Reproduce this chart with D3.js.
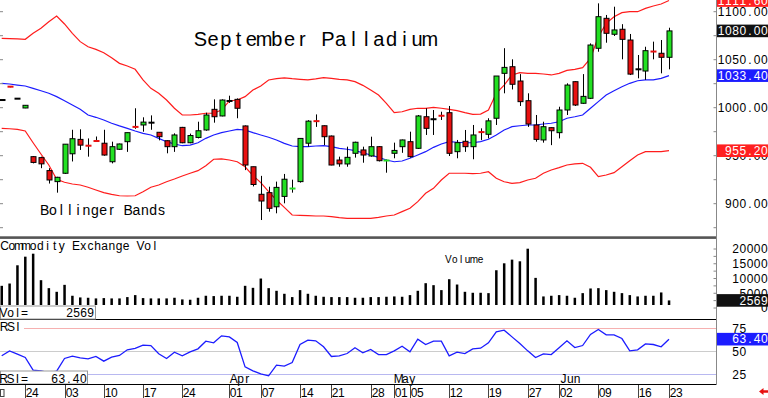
<!DOCTYPE html>
<html>
<head>
<meta charset="utf-8">
<script src="https://cdn.jsdelivr.net/npm/d3@7"></script>
<style>
  body { margin: 0; background: #fff; }
  svg text { font-family: "Liberation Sans", Arial, sans-serif; }
</style>
</head>
<body>
<div id="chart"></div>
<script>
// trading days on the chart
var dates = [
  "2025-02-19","2025-02-20","2025-02-21","2025-02-24","2025-02-25","2025-02-26","2025-02-27","2025-02-28",
  "2025-03-03","2025-03-04","2025-03-05","2025-03-06","2025-03-07","2025-03-10","2025-03-11","2025-03-12",
  "2025-03-13","2025-03-14","2025-03-17","2025-03-18","2025-03-19","2025-03-20","2025-03-21","2025-03-24",
  "2025-03-25","2025-03-26","2025-03-27","2025-03-28","2025-03-31",
  "2025-04-01","2025-04-02","2025-04-03","2025-04-04","2025-04-07","2025-04-08","2025-04-09","2025-04-10",
  "2025-04-11","2025-04-14","2025-04-15","2025-04-16","2025-04-17","2025-04-21","2025-04-22","2025-04-23",
  "2025-04-24","2025-04-25","2025-04-28","2025-04-29","2025-04-30",
  "2025-05-01","2025-05-02","2025-05-05","2025-05-06","2025-05-07","2025-05-08","2025-05-09","2025-05-12",
  "2025-05-13","2025-05-14","2025-05-15","2025-05-16","2025-05-19","2025-05-20","2025-05-21","2025-05-22",
  "2025-05-23","2025-05-27","2025-05-28","2025-05-29","2025-05-30",
  "2025-06-02","2025-06-03","2025-06-04","2025-06-05","2025-06-06","2025-06-09","2025-06-10","2025-06-11",
  "2025-06-12","2025-06-13","2025-06-16","2025-06-17","2025-06-18","2025-06-20","2025-06-23"
];

var open = [1008, 1021.9, 1009.4, 999.7, 949, 948, 934.5, 923, 931.7, 952,
  967, 960.4, 965.3, 963, 943.7, 956.7, 964.6, 980, 982, 984.4,
  974.4, 965.6, 959.4, 979.5, 963.5, 969, 976.8, 998.3, 991.4, 1007,
  1008.7, 981, 938.5, 909.8, 911.5, 896.8, 907.6, 915.4, 923, 963,
  986, 981.2, 970.5, 945.5, 941.4, 952.5, 956, 949.7, 959.4, 944.6,
  952.5, 959.4, 964.6, 957.7, 990.6, 988, 991.6, 994.8, 954.2, 965,
  959.4, 974.6, 972.3, 989, 1035.8, 1042.7, 1027.8, 1007.3, 982, 966.4,
  979.2, 974, 997.6, 1027.1, 1004.6, 1009.8, 1061.9, 1093.1, 1076.5, 1081.7,
  1070.5, 1040, 1038.2, 1058.5, 1056.7, 1052.5];
var high = [1008, 1021.9, 1009.4, 1002.6, 949.5, 949, 937, 928, 962, 977,
  977.5, 968, 970, 977, 964.6, 962.6, 974, 999.4, 990, 992,
  974.5, 966, 973.3, 980, 973, 985.4, 994.8, 1008.7, 1008.7, 1012.5,
  1009.7, 981.5, 938.5, 929, 917.7, 923, 931, 925, 968, 987,
  993, 981.5, 971, 949, 959.4, 964.6, 959.4, 969.8, 960, 946,
  963.6, 966.8, 975, 992.4, 999.4, 997.6, 995.8, 1001.8, 966.4, 976.8,
  982, 978.5, 989, 1033, 1062, 1050.4, 1035, 1015, 992.4, 985.4,
  979.5, 1001, 1025.4, 1027.5, 1035, 1067, 1108.7, 1096.6, 1105.2, 1087,
  1076.8, 1054.9, 1063.5, 1068.8, 1070.5, 1083.3];
var low = [1008, 1021.3, 1009.4, 999.5, 942, 937, 921, 911.5, 931, 944,
  956, 949, 964.5, 950, 942, 956, 954, 978, 975, 977,
  966, 952.5, 954, 963, 963, 968, 976, 984.4, 991, 1005,
  989, 935, 918, 883, 891.7, 890, 900.4, 911.5, 922, 959.5,
  980, 961, 940, 938.5, 938.5, 948, 942.7, 949, 944, 932.3,
  947.3, 953, 948, 957, 971.6, 971.6, 987.2, 949.7, 947.3, 954,
  946.3, 966.4, 968, 982, 1015, 1019, 1001.8, 980, 964.6, 963.6,
  961, 968, 992.4, 1001.8, 1004, 1009, 1058.3, 1067.7, 1074.7, 1050.4,
  1034, 1030.6, 1029, 1050.4, 1035.8, 1040];
var close = [1008, 1021.3, 1009.4, 1002.5, 943, 941.5, 924.7, 927.5, 962, 967.7,
  961, 959.5, 965, 950.7, 959.4, 962.2, 974, 978.5, 985, 984.4,
  969.8, 959.4, 971.6, 963.5, 971, 976, 992.4, 990.6, 1008, 1007,
  999.4, 940.3, 920, 902.8, 895.2, 917, 925.5, 915.8, 968, 986,
  984.5, 969.8, 940.3, 941.5, 948.3, 964, 950.7, 959.4, 944.8, 945,
  955.5, 966.4, 949, 991.4, 978.5, 988, 991.2, 952.5, 963.6, 959.4,
  971.6, 974.2, 986.3, 1033, 1042, 1024.4, 1006.3, 983, 967, 980.2,
  976, 997.6, 1023.6, 1002.8, 1011.8, 1065.3, 1094.8, 1077.5, 1081, 1071.2,
  1035, 1040, 1059.4, 1058.1, 1052.5, 1080];

var bbUpper = [1072.3, 1072, 1071.6, 1071.2, 1077.5, 1082.7, 1089.6, 1095.5, 1087.2, 1077.5,
  1068.8, 1063.5, 1060.8, 1057.3, 1052.1, 1046.2, 1043.4, 1040, 1028.9, 1020.2,
  1015, 1008, 999.4, 992.4, 992.4, 993.1, 994.2, 994.2, 997.6, 1007,
  1008, 1011.5, 1018.4, 1022.6, 1028.9, 1030.2, 1031, 1030.2, 1029.6, 1028.9,
  1030, 1031.3, 1030.6, 1029.6, 1028.9, 1027.1, 1023.3, 1018.4, 1013.2, 1004.6,
  994.8, 995.8, 998.3, 999.4, 999.4, 1000.4, 999.4, 998.3, 996.9, 994.8,
  993.1, 993.4, 997.6, 1015, 1023.6, 1034.1, 1036.5, 1035.8, 1035.8, 1035.1,
  1034.1, 1035.8, 1038.9, 1040, 1041.7, 1051.5, 1074, 1087.9, 1094.8, 1099,
  1100, 1100, 1103.5, 1105.9, 1108, 1111.6];
var bbMid = [1025.4, 1024.7, 1023.6, 1022.6, 1020.2, 1017.7, 1015, 1011.5, 1007.3, 1002.8,
  998.3, 992.4, 990, 987.2, 983.8, 981, 978.5, 975.7, 973.3, 971.6,
  968.1, 964.6, 962.2, 960.4, 961.1, 963.5, 968.1, 971.6, 974, 975.7,
  977.5, 976.8, 974, 971.6, 969.2, 966.4, 962.9, 960.1, 959.4, 959.4,
  960.1, 960.4, 959.4, 957.7, 956.7, 955.2, 953.1, 950.7, 948.3, 945.5,
  943.7, 944.5, 947.3, 950.7, 954.2, 958.7, 962.2, 964.6, 964, 963.5,
  963.5, 964.6, 967.1, 971.6, 976.8, 980.2, 981.2, 982, 982, 983,
  983.8, 985.4, 989, 990.6, 992.4, 999.4, 1006.3, 1013.2, 1017.7, 1021.9,
  1025.4, 1028.1, 1028.9, 1028.9, 1030.6, 1033.4];
var bbLower = [978.5, 978.1, 977.5, 975.7, 963.5, 951.8, 940.3, 925.4, 922.3, 920.5,
  919.5, 917.1, 914.3, 911.5, 909.8, 908.3, 908, 908.3, 912.5, 917.1,
  919.5, 922.9, 925.7, 928.9, 931.7, 934.4, 939.6, 946.3, 946.6, 945.5,
  943.7, 938.5, 929.3, 922, 912.5, 903.9, 896.2, 888.2, 887.9, 887.5,
  887.2, 887.2, 886.5, 885.4, 884.8, 884.8, 884.8, 884.8, 885.8, 887.2,
  888.2, 891.7, 895.2, 902.1, 910.8, 916, 924.7, 931.7, 931.7, 931.7,
  931.3, 931.7, 933.3, 926.5, 922.9, 921.2, 921.9, 924.7, 926.5, 931.7,
  935.1, 937.6, 940.3, 941.4, 942.1, 937.9, 928.2, 929.9, 932.3, 938.5,
  944.8, 950.7, 954.2, 954.2, 954.2, 955.2];

var volume = [7520, 8300, 14480, 17400, 18410, 9430, 6730, 5490, 7850, 4150,
  3580, 3470, 3250, 3360, 3250, 3250, 3700, 4370, 3360, 3250,
  3250, 3250, 3470, 2910, 2800, 3470, 4150, 4040, 4150, 4150,
  3810, 7520, 6840, 9990, 6730, 5830, 4820, 3700, 6060, 4820,
  4150, 3810, 3700, 3700, 3700, 3470, 3470, 3700, 3700, 3810,
  3920, 3810, 4370, 5830, 8410, 7740, 6060, 9760, 7960, 5490,
  5160, 5160, 5040, 12800, 15150, 16390, 15830, 20100, 10210, 3920,
  4150, 4370, 4150, 3470, 5040, 6620, 6730, 6060, 5490, 5040,
  4370, 3920, 4150, 4150, 5270, 2569];

var rsi = [45.3, 50.7, 47.1, 43.5, 29.7, 29.0, 27.0, 28.6, 42.4, 44.9,
  43.1, 42.0, 44.6, 39.5, 43.8, 45.7, 51.8, 53.3, 56.9, 56.5,
  47.5, 42.4, 49.3, 45.3, 49.6, 52.9, 61.2, 59.4, 67.0, 65.9,
  59.8, 33.3, 29.0, 25.7, 23.6, 35.1, 34.1, 38.0, 57.6, 62.3,
  61.6, 55.1, 44.6, 45.3, 47.8, 54.0, 48.6, 52.2, 46.7, 46.7,
  50.7, 55.8, 49.6, 63.4, 57.6, 61.2, 61.2, 45.3, 49.3, 47.8,
  52.9, 53.6, 59.4, 71.4, 73.2, 65.9, 58.7, 50.7, 43.5, 47.5,
  46.7, 54.0, 61.6, 54.3, 56.5, 68.5, 73.9, 68.1, 68.1, 64.1,
  50.7, 51.8, 58.3, 57.6, 55.1, 63.4];

var priceLabels = [900, 950, 1000, 1050, 1100];
var volLabels = [0, 5000, 10000, 15000, 20000];
var rsiLabels = [25, 50, 75];
var dayTicks = ["2025-02-24","2025-03-03","2025-03-10","2025-03-17","2025-03-24","2025-04-01","2025-04-07",
  "2025-04-14","2025-04-21","2025-04-28","2025-05-01","2025-05-05","2025-05-12","2025-05-19","2025-05-27",
  "2025-06-02","2025-06-09","2025-06-16","2025-06-23"];
var monthTicks = [["2025-04-01", "Apr"], ["2025-05-01", "May"], ["2025-06-02", "Jun"]];

var RED = "#e81010", GREEN = "#22e022", BLUE = "#1c1cff";
var W = 768, H = 398, axisX = 716.5;

var svg = d3.select("#chart").append("svg")
    .attr("width", W).attr("height", H);

var n = dates.length;
var x = d3.scaleLinear().domain([0, n - 1]).range([1.7, 669]);
var yP = d3.scaleLinear().domain([900, 1100]).range([203.7, 11.7]);
var yV = d3.scaleLinear().domain([0, 20000]).range([308, 249]);
var yR = d3.scaleLinear().domain([25, 75]).range([374.5, 328.5]);

// text drawn on a fixed character grid (each glyph centred in its cell)
function gridText(g, str, x0, y, adv, size, color) {
  var xs = str.split("").map(function(c, k) { return (x0 + adv * (k + 0.5)).toFixed(2); });
  return g.append("text")
    .attr("x", xs.join(" "))
    .attr("y", y)
    .attr("text-anchor", "middle")
    .attr("font-size", size)
    .attr("fill", color || "#000")
    .text(str);
}
function gridTextRight(g, str, xr, y, adv, size, color) {
  return gridText(g, str, xr - adv * str.length, y, adv, size, color);
}

var defs = svg.append("defs");
defs.append("clipPath").attr("id", "clipMain")
  .append("rect").attr("x", 0).attr("y", 0).attr("width", 716).attr("height", 236);
defs.append("clipPath").attr("id", "clipVol")
  .append("rect").attr("x", 0).attr("y", 239).attr("width", 716).attr("height", 66);

// ---------- main price panel ----------
var main = svg.append("g").attr("clip-path", "url(#clipMain)");

gridText(main, "September Palladium", 194, 46, 12.75, 20);
gridText(main, "Bollinger Bands", 40.5, 214.5, 8.35, 14);

var line = function(arr) {
  return d3.line().x(function(d, i) { return x(i); }).y(function(d) { return yP(d); })(arr);
};
main.append("path").attr("d", line(bbUpper)).attr("fill", "none").attr("stroke", "#ff1c1c").attr("stroke-width", 1.2);
main.append("path").attr("d", line(bbLower)).attr("fill", "none").attr("stroke", "#ff1c1c").attr("stroke-width", 1.2);
main.append("path").attr("d", line(bbMid)).attr("fill", "none").attr("stroke", BLUE).attr("stroke-width", 1.2);

var bars = dates.map(function(d, i) {
  return { i: i, o: open[i], h: high[i], l: low[i], c: close[i], v: volume[i], r: rsi[i] };
});

var candle = main.append("g").selectAll("g").data(bars).enter().append("g");
candle.append("line")
  .attr("x1", function(d) { return Math.round(x(d.i)) + 0.5; })
  .attr("x2", function(d) { return Math.round(x(d.i)) + 0.5; })
  .attr("y1", function(d) { return yP(d.h); })
  .attr("y2", function(d) { return yP(d.l); })
  .attr("stroke", "#000").attr("stroke-width", 1);
candle.append("rect")
  .each(function(d) {
    var y0 = yP(Math.max(d.o, d.c)), y1 = yP(Math.min(d.o, d.c));
    var cx = Math.round(x(d.i)) + 0.5;
    var col = d.c > d.o ? GREEN : (d.c < d.o ? RED : "#000");
    var r = d3.select(this);
    if (y1 - y0 < 1.5) {
      r.attr("x", cx - 3).attr("width", 6).attr("y", y0 - 1).attr("height", 2).attr("fill", col);
    } else {
      r.attr("x", cx - 2.5).attr("width", 5).attr("y", y0).attr("height", y1 - y0)
        .attr("fill", col).attr("stroke", "#000").attr("stroke-width", 1);
    }
  });

// panel separator
svg.append("rect").attr("x", 0).attr("y", 236.3).attr("width", 716).attr("height", 2.6).attr("fill", "#555");

// ---------- volume panel ----------
var vol = svg.append("g");
gridText(vol, "Commodity Exchange Vol", 1, 249.5, 7.15, 12);
gridText(vol, "Volume", 445, 263, 6.45, 10);
vol.append("g").attr("clip-path", "url(#clipVol)")
  .selectAll("rect").data(bars).enter().append("rect")
  .attr("x", function(d) { return x(d.i) - 1.2; })
  .attr("width", 2.5)
  .attr("y", function(d) { return yV(d.v); })
  .attr("height", function(d) { return yV(0) - yV(d.v); })
  .attr("fill", "#000");

svg.append("line").attr("x1", 0).attr("x2", 716).attr("y1", 319.5).attr("y2", 319.5).attr("stroke", "#000");
var volBox = svg.append("g");
volBox.append("rect").attr("x", 0.5).attr("y", 306).attr("width", 95).attr("height", 13).attr("fill", "#fff").attr("stroke", "#999");
gridText(volBox, "Vol=", 0, 317, 7, 12);
gridTextRight(volBox, String(volume[n - 1]), 94, 317, 7, 12);

// ---------- RSI panel ----------
var rs = svg.append("g");
rs.append("line").attr("x1", 24).attr("x2", 716).attr("y1", yR(75)).attr("y2", yR(75)).attr("stroke", "#f6b0b0");
rs.append("line").attr("x1", 0).attr("x2", 716).attr("y1", yR(50)).attr("y2", yR(50)).attr("stroke", "#cccccc");
rs.append("line").attr("x1", 88).attr("x2", 716).attr("y1", yR(25)).attr("y2", yR(25)).attr("stroke", "#b8b8f0");
gridText(rs, "RSI", 0.5, 331, 7, 12);
rs.append("path")
  .attr("d", d3.line().x(function(d) { return x(d.i); }).y(function(d) { return yR(d.r); })(bars))
  .attr("fill", "none").attr("stroke", BLUE).attr("stroke-width", 1.3);
monthTicks.forEach(function(m) {
  gridText(rs, m[1], x(dates.indexOf(m[0])) + 1, 383, 6.8, 12);
});
var rsiBox = svg.append("g");
rsiBox.append("rect").attr("x", 0.5).attr("y", 371).attr("width", 87).attr("height", 13).attr("fill", "#fff").attr("stroke", "#999");
gridText(rsiBox, "RSI=", 0, 382.5, 7, 12);
gridTextRight(rsiBox, rsi[n - 1].toFixed(2), 87, 382.5, 7.2, 12);
svg.append("line").attr("x1", 0).attr("x2", 716).attr("y1", 384.5).attr("y2", 384.5).attr("stroke", "#000");

// ---------- date axis ----------
var dax = svg.append("g");
dayTicks.forEach(function(d) {
  var xi = Math.round(x(dates.indexOf(d))) + 0.5;
  dax.append("line").attr("x1", xi).attr("x2", xi).attr("y1", 385).attr("y2", 398).attr("stroke", "#444");
  gridText(dax, d.slice(8), xi + 0.5, 396.5, 6.3, 12);
});
dax.append("rect").attr("x", 0.5).attr("y", 389.5).attr("width", 3.5).attr("height", 7).attr("fill", "none").attr("stroke", "#444");
// red arrow bottom right
dax.append("path").attr("d", "M759,391.5 L763.5,388 L763.5,390.3 L768,390.3 L768,392.7 L763.5,392.7 L763.5,395 Z").attr("fill", RED);

// ---------- right axis ----------
var ax = svg.append("g");
ax.append("line").attr("x1", axisX).attr("x2", axisX).attr("y1", 0).attr("y2", 385).attr("stroke", "#888");
d3.range(875, 1101, 25).forEach(function(v) {
  ax.append("line").attr("x1", axisX - 3).attr("x2", axisX).attr("y1", yP(v)).attr("y2", yP(v)).attr("stroke", "#888");
  ax.append("line").attr("x1", 0).attr("x2", 3).attr("y1", yP(v)).attr("y2", yP(v)).attr("stroke", "#888");
});
d3.range(0, 20001, 2500).forEach(function(v) {
  ax.append("line").attr("x1", axisX - 3).attr("x2", axisX).attr("y1", yV(v)).attr("y2", yV(v)).attr("stroke", "#888");
});
priceLabels.forEach(function(v) {
  gridTextRight(ax, v.toFixed(2), 768, yP(v) + 4.3, 7.2, 12);
});
volLabels.forEach(function(v) {
  gridTextRight(ax, String(v), 768, yV(v) + 4.3, 7.2, 12);
});
rsiLabels.forEach(function(v) {
  gridText(ax, String(v), 732, yR(v) + 4.5, 7.2, 12);
});

// current value boxes
var boxes = [
  { v: yP(bbUpper[n - 1]), t: bbUpper[n - 1].toFixed(2), c: "#ff2020" },
  { v: yP(close[n - 1]), t: close[n - 1].toFixed(2), c: "#111" },
  { v: yP(bbMid[n - 1]), t: bbMid[n - 1].toFixed(2), c: BLUE },
  { v: yP(bbLower[n - 1]), t: bbLower[n - 1].toFixed(2), c: "#ff2020" },
  { v: yV(volume[n - 1]), t: String(volume[n - 1]), c: "#111" },
  { v: yR(rsi[n - 1]), t: rsi[n - 1].toFixed(2), c: BLUE }
];
boxes.forEach(function(b) {
  ax.append("rect").attr("x", 717).attr("y", b.v - 6.3).attr("width", 51).attr("height", 12.6).attr("fill", b.c);
  gridTextRight(ax, b.t, 768, b.v + 4.3, 7.2, 12, "#fff");
});
</script>
</body>
</html>
